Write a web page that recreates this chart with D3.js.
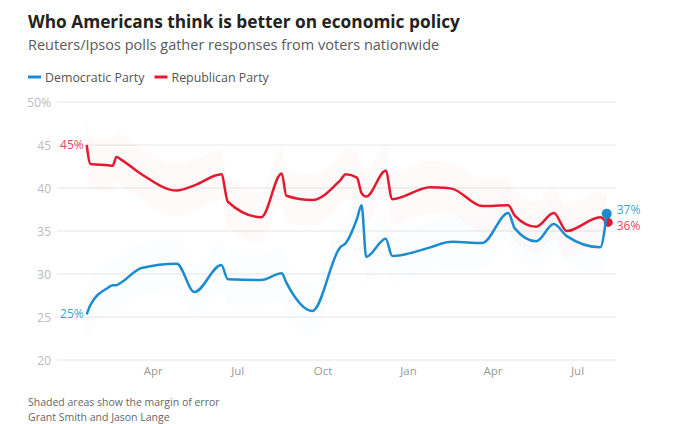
<!DOCTYPE html>
<html>
<head>
<meta charset="utf-8">
<script src="https://cdn.jsdelivr.net/npm/d3@7"></script>
<style>
  html, body { margin: 0; padding: 0; background: #fff; }
  svg { display: block; font-family: "Open Sans", "Noto Sans", sans-serif; }
</style>
</head>
<body>
<svg id="chart" width="700" height="424"></svg>
<script>
// ---- data ----
const pollDates = [
  "2023-01-20","2023-01-24","2023-02-12","2023-02-17","2023-02-21","2023-02-26",
  "2023-03-20","2023-04-27","2023-05-16","2023-06-14","2023-06-21","2023-07-27",
  "2023-08-18","2023-08-23","2023-09-20","2023-10-20","2023-10-26","2023-11-07",
  "2023-11-12","2023-11-17","2023-12-08","2023-12-15","2024-01-25","2024-02-12",
  "2024-02-18","2024-03-21","2024-04-18","2024-04-25","2024-05-18","2024-06-06",
  "2024-06-20","2024-07-26","2024-08-02"
];
const democratic = [
  25.3, 26.4, 28.4, 28.7, 28.7, 29.0,
  30.7, 31.2, 27.9, 31.05, 29.4, 29.3,
  30.1, 29.0, 25.7, 33.1, 33.6, 36.4,
  38.0, 32.0, 34.1, 32.1, 33.1, 33.7,
  33.75, 33.6, 37.1, 35.3, 33.8, 35.8,
  34.4, 33.1, 37.0
];
const republican = [
  45.0, 42.8, 42.65, 42.6, 43.6, 43.3,
  41.6, 39.7, 40.3, 41.6, 38.4, 36.6,
  41.7, 39.1, 38.6, 40.9, 41.6, 41.2,
  39.4, 39.0, 42.0, 38.7, 40.1, 40.0,
  39.9, 37.9, 38.0, 36.8, 35.5, 37.1,
  35.0, 36.6, 36.0
];
const marginOfError = 3;            // +/- points, shaded band
const yTicks = [20, 25, 30, 35, 40, 45, 50];
const xTickDates = ["2023-04-01","2023-07-01","2023-10-01","2024-01-01","2024-04-01","2024-07-01"];
const xTickLabels = ["Apr","Jul","Oct","Jan","Apr","Jul"];
const seriesNames = ["Democratic Party", "Republican Party"];
const seriesColors = ["#1a8ccf", "#e31a2f"];
const labelColors = ["#3f9fd6", "#e44a66"];

// ---- build ----
const parse = d3.timeParse("%Y-%m-%d");
const dates = pollDates.map(parse);
const series = [democratic, republican].map((vals, i) => ({
  name: seriesNames[i], color: seriesColors[i], labelColor: labelColors[i],
  values: vals.map((v, j) => ({ date: dates[j], value: v }))
}));

const svg = d3.select("#chart");
const x = d3.scaleTime()
  .domain([parse("2022-12-19"), parse("2024-08-12")])
  .range([57, 616]);
const y = d3.scaleLinear().domain([20, 50]).range([360, 102]);

// Title, subtitle
svg.append("text").attr("x", 28).attr("y", 28)
  .attr("font-size", 17.3).attr("font-weight", 700).attr("fill", "#222")
  .text("Who Americans think is better on economic policy");
svg.append("text").attr("x", 28).attr("y", 50)
  .attr("font-size", 14.5).attr("fill", "#5a5a5a")
  .text("Reuters/Ipsos polls gather responses from voters nationwide");

// Legend
const legend = svg.append("g");
let lx = 28;
series.forEach((s, i) => {
  legend.append("line").attr("x1", lx).attr("x2", lx + 13).attr("y1", 77).attr("y2", 77)
    .attr("stroke", s.color).attr("stroke-width", 3);
  const t = legend.append("text").attr("x", lx + 17).attr("y", 81.5)
    .attr("font-size", 12.4).attr("fill", "#555").text(s.name);
  lx += 17 + t.node().getComputedTextLength() + 10;
});

// Grid + y labels
const grid = svg.append("g");
yTicks.forEach(t => {
  grid.append("line").attr("x1", 57).attr("x2", 616)
    .attr("y1", y(t)).attr("y2", y(t))
    .attr("stroke", "#e6e6e6").attr("stroke-width", 1);
  grid.append("text").attr("x", 51).attr("y", y(t) + 4.5)
    .attr("text-anchor", "end").attr("font-size", 12).attr("fill", "#bbb")
    .text(t === 50 ? "50%" : t);
});

// X axis labels
const xAxis = d3.axisBottom(x)
  .tickValues(xTickDates.map(parse))
  .tickFormat((d, i) => xTickLabels[i])
  .tickSize(0).tickPadding(0);
const gx = svg.append("g").attr("transform", "translate(0,365)").call(xAxis);
gx.select(".domain").remove();
gx.selectAll("text").attr("font-size", 11.5).attr("fill", "#999")
  .attr("font-family", "Open Sans, sans-serif").attr("dy", "0.9em");

// Margin of error bands
const area = d3.area().curve(d3.curveMonotoneX)
  .x(d => x(d.date))
  .y0(d => y(d.value - marginOfError))
  .y1(d => y(d.value + marginOfError));
series.forEach((s, i) => {
  svg.append("path").datum(s.values).attr("d", area)
    .attr("fill", s.color).attr("fill-opacity", i === 0 ? 0.018 : 0.022);
});

// Lines
const line = d3.line().curve(d3.curveMonotoneX)
  .x(d => x(d.date)).y(d => y(d.value));

const rep = series[1], dem = series[0];
svg.append("path").datum(rep.values).attr("d", line)
  .attr("fill", "none").attr("stroke", rep.color).attr("stroke-width", 2.5)
  .attr("stroke-linejoin", "round");
const repLast = rep.values[rep.values.length - 1];
svg.append("circle").attr("cx", x(repLast.date) + 1.5).attr("cy", y(repLast.value))
  .attr("r", 4.5).attr("fill", rep.color);
svg.append("path").datum(dem.values).attr("d", line)
  .attr("fill", "none").attr("stroke", dem.color).attr("stroke-width", 2.5)
  .attr("stroke-linejoin", "round");
const demLast = dem.values[dem.values.length - 1];
svg.append("circle").attr("cx", x(demLast.date)).attr("cy", y(demLast.value))
  .attr("r", 5).attr("fill", dem.color);

// Start / end labels
series.forEach(s => {
  const first = s.values[0], last = s.values[s.values.length - 1];
  svg.append("text").attr("x", x(first.date) - 3).attr("y", y(first.value) + 4)
    .attr("text-anchor", "end").attr("font-size", 12).attr("fill", s.labelColor)
    .text(Math.round(first.value) + "%");
  svg.append("text").attr("x", x(last.date) + 10)
    .attr("y", y(last.value) + (s === dem ? 0 : 8))
    .attr("font-size", 12).attr("fill", s.labelColor)
    .text(Math.round(last.value) + "%");
});

// Footer
svg.append("text").attr("x", 28).attr("y", 406)
  .attr("font-size", 10.5).attr("fill", "#666")
  .text("Shaded areas show the margin of error");
svg.append("text").attr("x", 28).attr("y", 421)
  .attr("font-size", 10.5).attr("fill", "#666")
  .text("Grant Smith and Jason Lange");
</script>
</body>
</html>
